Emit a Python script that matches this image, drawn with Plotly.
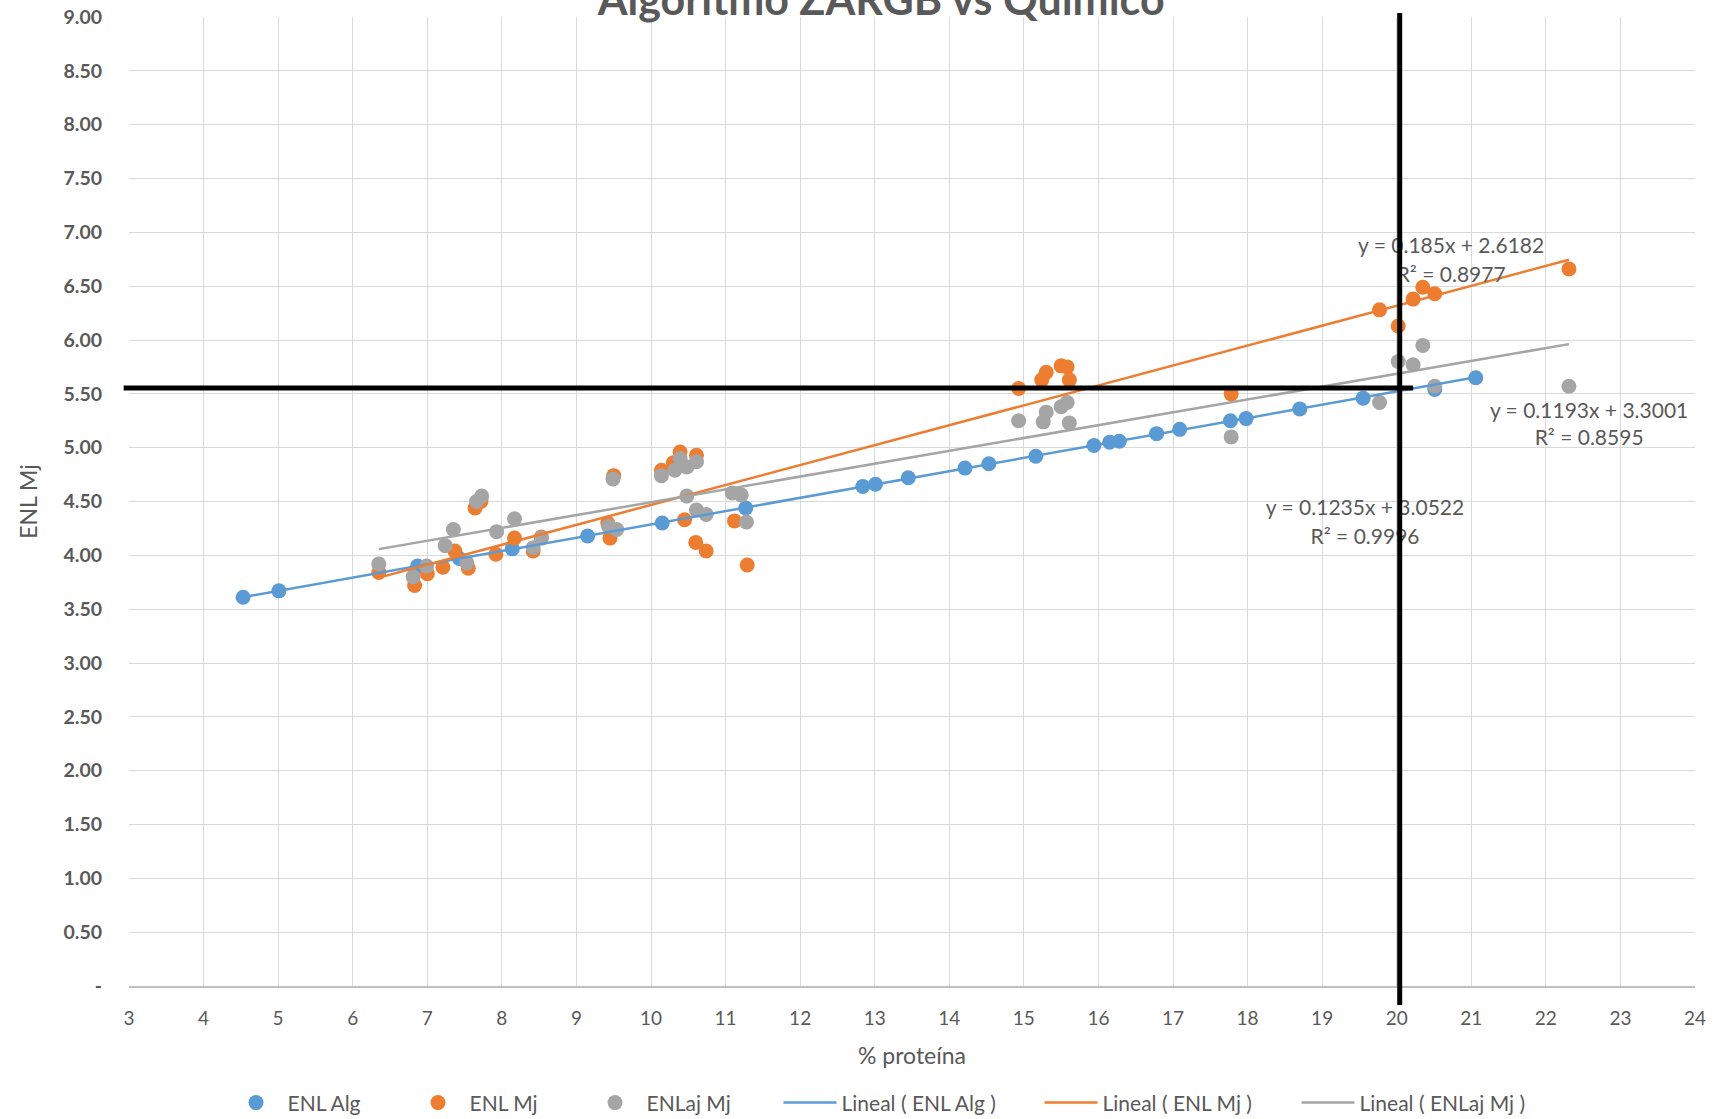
import plotly.graph_objects as go

# ENL Alg: protein % vs ENL estimated by the algorithm
alg_x = [4.53, 5.01, 6.87, 7.43, 8.14, 9.15, 10.15, 11.27, 12.84, 13.01, 13.45, 14.21, 14.53,
         15.16, 15.94, 16.15, 16.28, 16.78, 17.09, 17.77, 17.98, 18.70, 19.55, 20.51, 21.06]
alg_y = [3.61, 3.67, 3.90, 3.97, 4.06, 4.18, 4.30, 4.44, 4.64, 4.66, 4.72, 4.81, 4.85,
         4.92, 5.02, 5.05, 5.06, 5.13, 5.17, 5.25, 5.27, 5.36, 5.46, 5.54, 5.65]

# ENL Mj: chemical reference values
mj_x = [6.35, 6.83, 7.00, 7.21, 7.37, 7.55, 7.64, 7.72, 7.92, 8.17, 8.42, 8.53, 9.45, 9.42,
        9.50, 10.14, 10.30, 10.39, 10.45, 10.60, 10.61, 10.74, 11.12, 11.29,
        14.93, 15.24, 15.30, 15.50, 15.58, 15.61, 17.78, 19.77, 20.02, 20.22, 20.35, 20.51, 22.31]
mj_y = [3.84, 3.72, 3.83, 3.89, 4.04, 3.88, 4.44, 4.50, 4.01, 4.16, 4.04, 4.17, 4.16, 4.30,
        4.74, 4.79, 4.86, 4.96, 4.33, 4.12, 4.93, 4.04, 4.32, 3.91,
        5.55, 5.63, 5.70, 5.76, 5.75, 5.63, 5.50, 6.28, 6.13, 6.38, 6.49, 6.43, 6.66]

# ENLaj Mj: adjusted chemical values
aj_x = [6.35, 6.81, 6.99, 7.24, 7.35, 7.53, 7.66, 7.73, 7.93, 8.17, 8.42, 8.53, 9.43, 9.54,
        9.49, 10.14, 10.32, 10.39, 10.48, 10.61, 10.48, 10.61, 10.74, 11.09, 11.21, 11.28,
        14.93, 15.26, 15.30, 15.50, 15.58, 15.61, 17.78, 19.77, 20.02, 20.22, 20.35, 20.51, 22.31]
aj_y = [3.92, 3.80, 3.90, 4.09, 4.24, 3.93, 4.50, 4.55, 4.22, 4.34, 4.07, 4.16, 4.27, 4.24,
        4.71, 4.74, 4.79, 4.90, 4.82, 4.87, 4.55, 4.42, 4.38, 4.58, 4.56, 4.31,
        5.25, 5.24, 5.33, 5.38, 5.42, 5.23, 5.10, 5.42, 5.80, 5.77, 5.95, 5.57, 5.57]

# linear trend fits: slope, intercept, R²
fit_alg = (0.1235, 3.0522, 0.9996)
fit_mj = (0.185, 2.6182, 0.8977)
fit_aj = (0.1193, 3.3001, 0.8595)

# axis ticks
x_ticks = list(range(3, 25))
y_ticks = [i * 0.5 for i in range(19)]
y_tick_text = ["-" if v == 0 else f"{v:.2f}" for v in y_ticks]

# reference cut lines
ref_x = 20.04
ref_x_end = 20.22
ref_y = 5.555

FONT = "Lato"
TXT = "#595959"
BLUE, ORANGE, GREY = "#5B9BD5", "#ED7D31", "#A5A5A5"
X_MIN, X_MAX = 3, 24

fig = go.Figure()

series = [
    ("ENL Alg", alg_x, alg_y, BLUE, 114),
    ("ENL Mj", mj_x, mj_y, ORANGE, 109),
    ("ENLaj Mj", aj_x, aj_y, GREY, 127),
]
for name, xs, ys, col, lw in series:
    fig.add_trace(go.Scatter(
        x=xs, y=ys, mode="markers", name=name,
        marker=dict(color=col, size=15, line=dict(width=0)),
        legendwidth=lw,
    ))

fits = [
    ("Lineal ( ENL Alg )", alg_x, fit_alg, BLUE, 193),
    ("Lineal ( ENL Mj )", mj_x, fit_mj, ORANGE, 189),
    ("Lineal ( ENLaj Mj )", aj_x, fit_aj, GREY, 175),
]
for name, xs, (m, b, r2), col, lw in fits:
    x0, x1 = min(xs), max(xs)
    fig.add_trace(go.Scatter(
        x=[x0, x1], y=[m * x0 + b, m * x1 + b], mode="lines", name=name,
        line=dict(color=col, width=2.5), legendwidth=lw,
    ))

# equation labels (drawn as text traces so the cut lines sit above them)
label_pos = [
    (fit_alg, 19.575, 4.42, 4.155),
    (fit_mj, 20.73, 6.857, 6.59),
    (fit_aj, 22.58, 5.32, 5.07),
]
for (m, b, r2), lx, ly1, ly2 in label_pos:
    fig.add_trace(go.Scatter(
        x=[lx, lx], y=[ly1, ly2], mode="text",
        text=[f"y = {m}x + {b}", f"R² = {r2}"],
        textposition="middle center",
        textfont=dict(family=FONT, size=21, color=TXT),
        showlegend=False, hoverinfo="skip",
    ))

# black cut lines
fig.add_shape(type="line", xref="paper", yref="y",
              x0=-0.0034, x1=(ref_x_end - X_MIN) / (X_MAX - X_MIN), y0=ref_y, y1=ref_y,
              line=dict(color="black", width=5), layer="above")
fig.add_shape(type="line", xref="x", yref="paper",
              x0=ref_x, x1=ref_x, y0=-0.0196, y1=1.004,
              line=dict(color="black", width=5), layer="above")

fig.update_layout(
    width=1716, height=1119,
    margin=dict(l=129, r=21, t=17, b=133, autoexpand=False),
    paper_bgcolor="white", plot_bgcolor="white",
    font=dict(family=FONT, color=TXT),
    title=dict(text="Algoritmo ZARGB vs Químico", x=0.5135, xanchor="center",
               y=1.0, yref="container", yanchor="middle",
               font=dict(family=FONT, size=43, color=TXT, weight="bold")),
    xaxis=dict(range=[X_MIN, X_MAX], tickvals=x_ticks, showgrid=True, automargin=False,
               gridcolor="#d9d9d9", gridwidth=1.3, zeroline=False,
               showline=True, linecolor="#bfbfbf", linewidth=1.5,
               ticks="", ticklabelstandoff=14,
               tickfont=dict(family=FONT, size=19, color=TXT),
               title=dict(text="% proteína", standoff=20,
                          font=dict(family=FONT, size=23, color=TXT))),
    yaxis=dict(range=[0, 9], tickvals=y_ticks, ticktext=y_tick_text, showgrid=True,
               automargin=False,
               gridcolor="#d9d9d9", gridwidth=1.3, zeroline=False, showline=False,
               ticks="", ticklabelstandoff=26,
               tickfont=dict(family=FONT, size=19.5, color=TXT, weight="bold"),
               title=dict(text="ENL Mj", standoff=19,
                          font=dict(family=FONT, size=23, color=TXT))),
    legend=dict(orientation="h", x=(224.5 - 129) / 1566, xanchor="left",
                y=-0.1207, yanchor="middle", itemwidth=53,
                font=dict(family=FONT, size=21, color=TXT),
                bgcolor="rgba(0,0,0,0)"),
    showlegend=True,
)

fig.write_html("out.html")
